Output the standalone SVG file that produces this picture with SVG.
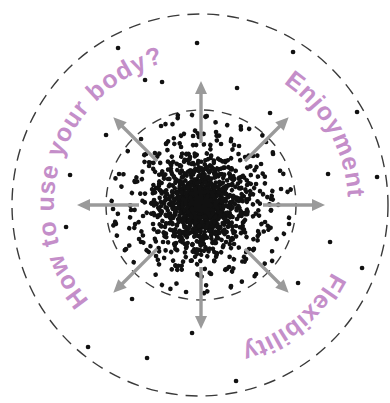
<svg xmlns="http://www.w3.org/2000/svg" xmlns:xlink="http://www.w3.org/1999/xlink" width="390" height="403" viewBox="0 0 390 403">
<style>
.ring{fill:none;stroke:#3a3a3a;stroke-width:1.4}
.dots{fill:none;stroke:#111;stroke-width:4.6;stroke-linecap:round}
.arrow{stroke:#9a9a9a;stroke-width:3.4;fill:none}
.lbl{font-family:"Liberation Sans",Arial,sans-serif;font-weight:bold;font-size:25px;fill:#c48ec9;letter-spacing:1px}
</style>
<defs>
<marker id="ah" markerUnits="userSpaceOnUse" viewBox="0 0 13 12" markerWidth="13" markerHeight="12" refX="6" refY="6" orient="auto"><path d="M0,0L13,6L0,12z" fill="#9a9a9a"/></marker>
<path id="cl" vector-effect="non-scaling-stroke" class="dots" d="M3 -5h.1M-12 4h.1M18 -9h.1M-7 -19h.1M9 14h.1M-20 -6h.1M14 20h.1M-4 22h.1M22 3h.1M-16 15h.1M6 -22h.1M-23 -12h.1M1 9h.1M-9 -9h.1M12 -1h.1M-2 -13h.1M17 10h.1M-14 -16h.1M8 -14h.1M-19 9h.1M24 -14h.1M-6 12h.1M11 5h.1M-11 20h.1M4 -2h.1M31 -8h.1M-28 14h.1M35 22h.1M-33 -25h.1M12 38h.1M-8 -41h.1M40 -27h.1M-42 5h.1M27 33h.1M-21 -38h.1M5 45h.1M-37 29h.1M44 9h.1M-15 44h.1M30 -35h.1M-45 -16h.1M19 -44h.1M-3 32h.1M38 -3h.1M-29 -30h.1M22 27h.1M-40 22h.1M46 -19h.1M-11 -47h.1M9 -33h.1M-47 -4h.1M33 40h.1M-25 39h.1M42 28h.1M-34 -10h.1M14 -29h.1M-6 48h.1M28 -19h.1M-38 38h.1M25 12h.1M-30 0h.1M0 -36h.1M36 15h.1M-18 28h.1M16 33h.1M55 -20h.1M-58 12h.1M48 45h.1M-52 -38h.1M20 -60h.1M-25 62h.1M64 18h.1M-66 -22h.1M10 70h.1M-8 -68h.1M60 -40h.1M-45 52h.1M38 -58h.1M-62 35h.1M70 -5h.1M-35 -60h.1M45 55h.1M-70 6h.1M28 63h.1M-55 -50h.1M58 30h.1M-20 -57h.1M52 -48h.1M-48 20h.1M15 -72h.1M80 -15h.1M-82 -30h.1M30 82h.1M-40 -78h.1M72 -50h.1M-75 45h.1M55 70h.1M-15 88h.1M88 20h.1M-60 -65h.1M65 -62h.1M-88 5h.1"/>
<path id="tp" d="M201,352A147,147 0 1 1 201,58A147,147 0 1 1 201,352"/>
</defs>
<g id="outer-ring"><ellipse class="ring" cx="200" cy="205" rx="188" ry="191" stroke-dasharray="12 8"/></g>
<g id="inner-ring"><circle class="ring" cx="201" cy="205" r="95" stroke-dasharray="10 8"/></g>
<g id="dots">
<use xlink:href="#cl" transform="translate(201,204)"/>
<use xlink:href="#cl" transform="translate(201,204) rotate(97)"/>
<use xlink:href="#cl" transform="translate(201,204) rotate(203)"/>
<use xlink:href="#cl" transform="translate(201,204) rotate(-61) scale(1.02)"/>
<use xlink:href="#cl" transform="translate(201,204) rotate(170) scale(-0.95,0.95)"/>
<use xlink:href="#cl" transform="translate(201,204) rotate(40) scale(0.8)"/>
<use xlink:href="#cl" transform="translate(201,204) rotate(151) scale(0.72)"/>
<use xlink:href="#cl" transform="translate(201,204) rotate(260) scale(0.66)"/>
<use xlink:href="#cl" transform="translate(201,204) rotate(20) scale(0.58)"/>
<use xlink:href="#cl" transform="translate(201,204) rotate(130) scale(0.52)"/>
<use xlink:href="#cl" transform="translate(201,204) rotate(300) scale(0.46)"/>
<use xlink:href="#cl" transform="translate(201,204) rotate(75) scale(0.4)"/>
<use xlink:href="#cl" transform="translate(201,204) rotate(215) scale(0.32)"/>
<path class="dots" d="M197 43h.1M118 48h.1M293 52h.1M145 80h.1M162 82h.1M237 88h.1M270 113h.1M357 112h.1M106 135h.1M70 175h.1M328 174h.1M377 177h.1M66 227h.1M330 242h.1M362 268h.1M132 299h.1M298 283h.1M192 333h.1M88 347h.1M147 358h.1M236 381h.1"/>
</g>
<g id="arrows" transform="translate(201,205)">
<line class="arrow" x1="62" y1="0" x2="117" y2="0" marker-end="url(#ah)"/>
<line class="arrow" x1="62" y1="0" x2="117" y2="0" marker-end="url(#ah)" transform="rotate(45)"/>
<line class="arrow" x1="62" y1="0" x2="117" y2="0" marker-end="url(#ah)" transform="rotate(90)"/>
<line class="arrow" x1="62" y1="0" x2="117" y2="0" marker-end="url(#ah)" transform="rotate(135)"/>
<line class="arrow" x1="62" y1="0" x2="117" y2="0" marker-end="url(#ah)" transform="rotate(180)"/>
<line class="arrow" x1="62" y1="0" x2="117" y2="0" marker-end="url(#ah)" transform="rotate(225)"/>
<line class="arrow" x1="62" y1="0" x2="117" y2="0" marker-end="url(#ah)" transform="rotate(270)"/>
<line class="arrow" x1="62" y1="0" x2="117" y2="0" marker-end="url(#ah)" transform="rotate(315)"/>
</g>
<g id="label-body"><text class="lbl"><textPath xlink:href="#tp" startOffset="127">How to use your body?</textPath></text></g>
<g id="label-enjoyment"><text class="lbl"><textPath xlink:href="#tp" startOffset="549">Enjoyment</textPath></text></g>
<g id="label-flexibility"><text class="lbl" style="letter-spacing:0.5px"><textPath xlink:href="#tp" startOffset="762">Flexibility</textPath></text></g>
</svg>
